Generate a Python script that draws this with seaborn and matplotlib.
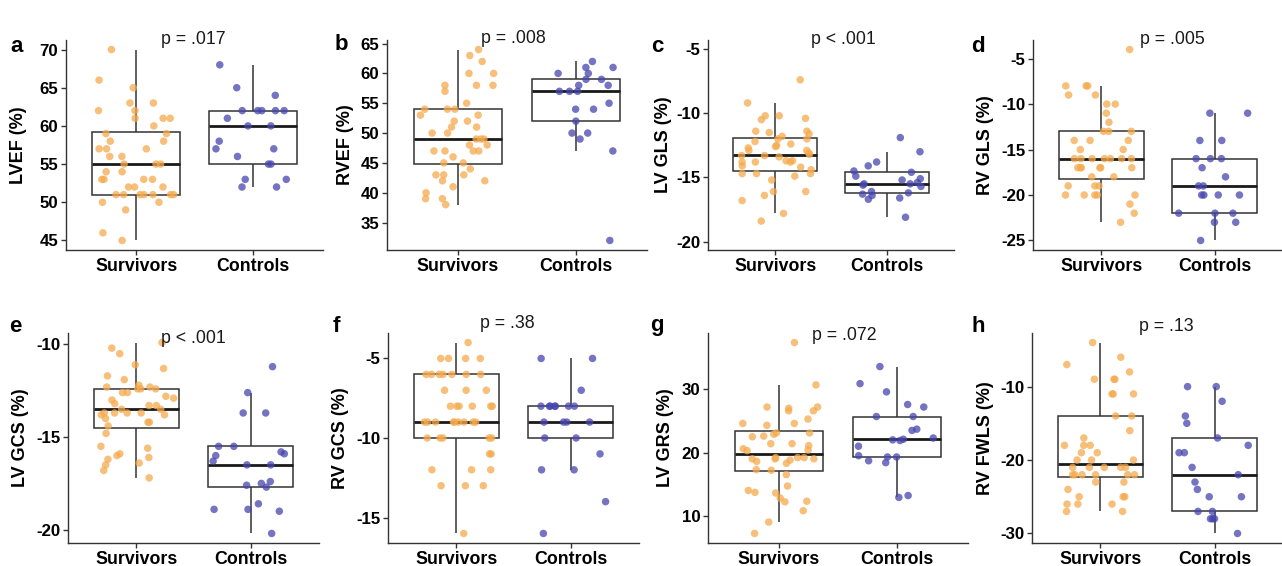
import numpy as np
import pandas as pd
import matplotlib
matplotlib.use('Agg')
import matplotlib.pyplot as plt
from matplotlib.ticker import MultipleLocator, FormatStrFormatter
import seaborn as sns

# ---- data ----
groups = ['Survivors', 'Controls']
panelLetters = ['a', 'b', 'c', 'd', 'e', 'f', 'g', 'h']
yLabels = ['LVEF (%)', 'RVEF (%)', 'LV GLS (%)', 'RV GLS (%)',
           'LV GCS (%)', 'RV GCS (%)', 'LV GRS (%)', 'RV FWLS (%)']
pValues = ['p = .017', 'p = .008', 'p < .001', 'p = .005',
           'p < .001', 'p = .38', 'p = .072', 'p = .13']

lvefSurvivors = [70, 66, 65, 63, 63, 62, 62, 61, 61, 61, 60, 59, 59, 58, 58, 57, 57, 57, 56, 56, 55, 55,
                 55, 54, 54, 53, 53, 53, 53, 52, 52, 52, 51, 51, 51, 51, 51, 51, 51, 50, 50, 49, 46, 45]
lvefControls = [68, 65, 64, 62, 62, 62, 62, 62, 61, 60, 60, 58, 57, 57, 56, 55, 55, 53, 53, 52, 52]

rvefSurvivors = [64, 63, 62, 60, 60, 58, 58, 58, 57, 55, 54, 54, 54, 53, 53, 52, 52, 51, 51, 50, 50, 49,
                 49, 49, 48, 48, 47, 47, 47, 47, 46, 45, 45, 44, 43, 43, 43, 42, 42, 41, 40, 39, 39, 38]
rvefControls = [62, 61, 61, 60, 60, 59, 59, 58, 58, 57, 57, 57, 55, 54, 54, 52, 50, 50, 49, 47, 32]

lvGlsSurvivors = [-7.4, -9.2, -10.2, -10.2, -10.4, -10.5, -11.4, -11.4, -11.5, -11.6, -11.8, -12.0, -12.0,
                  -12.2, -12.4, -12.5, -12.6, -12.7, -12.9, -12.9, -13.1, -13.2, -13.3, -13.3, -13.4, -13.7,
                  -13.7, -13.8, -13.8, -13.8, -14.1, -14.2, -14.4, -14.7, -14.7, -14.7, -14.9, -15.2, -16.1,
                  -16.1, -16.4, -16.8, -17.8, -18.4]
lvGlsControls = [-11.9, -13.0, -13.8, -14.1, -14.5, -14.6, -14.9, -15.1, -15.2, -15.4, -15.5, -15.5, -15.6,
                 -15.7, -16.1, -16.2, -16.3, -16.4, -16.6, -16.7, -18.1]

rvGlsSurvivors = [-4, -8, -8, -8, -9, -9, -10, -10, -11, -12, -13, -13, -13, -14, -14, -14, -15, -15,
                  -16, -16, -16, -16, -16, -16, -16, -17, -17, -17, -17, -17, -17, -18, -18, -19, -19, -19,
                  -20, -20, -20, -20, -20, -21, -22, -23]
rvGlsControls = [-11, -11, -14, -14, -16, -16, -16, -17, -18, -19, -19, -20, -20, -20, -20, -22, -22, -22,
                 -23, -23, -25]

lvGcsSurvivors = [-9.9, -10.2, -10.5, -11.1, -11.3, -11.7, -11.9, -12.2, -12.3, -12.3, -12.4, -12.4, -12.4,
                  -12.6, -12.6, -12.8, -12.9, -13.0, -13.2, -13.3, -13.3, -13.5, -13.5, -13.7, -13.7, -13.7,
                  -13.7, -13.8, -13.8, -14.0, -14.2, -14.2, -14.4, -14.8, -15.5, -15.6, -15.9, -16.0, -16.1,
                  -16.2, -16.4, -16.5, -16.8, -17.2]
lvGcsControls = [-11.2, -12.6, -13.7, -13.7, -15.5, -15.5, -15.8, -15.9, -16.0, -16.3, -16.5, -16.5, -17.4,
                 -17.5, -17.6, -17.7, -18.6, -18.9, -18.9, -19.0, -20.2]

rvGcsSurvivors = [-4, -5, -5, -5, -5, -6, -6, -6, -6, -6, -6, -6, -7, -7, -7, -8, -8, -8, -8, -8, -8,
                  -9, -9, -9, -9, -9, -9, -9, -9, -9, -10, -10, -10, -10, -10, -11, -11, -12, -12, -12,
                  -13, -13, -13, -16]
rvGcsControls = [-5, -5, -7, -8, -8, -8, -8, -8, -8, -8, -9, -9, -9, -9, -10, -10, -11, -12, -12, -14, -16]

lvGrsSurvivors = [37.4, 30.7, 27.2, 27.2, 27.0, 26.6, 26.6, 25.3, 24.6, 24.6, 24.3, 23.1, 23.1, 22.9, 22.6,
                  22.5, 21.4, 21.4, 21.1, 20.6, 20.4, 20.3, 19.2, 19.2, 19.2, 19.0, 19.0, 19.0, 18.8, 18.6,
                  18.3, 17.3, 17.2, 16.5, 14.7, 14.0, 13.7, 13.6, 12.8, 12.3, 12.2, 10.8, 9.0, 7.2]
lvGrsControls = [33.6, 30.9, 29.6, 27.6, 27.2, 25.7, 25.7, 23.7, 23.5, 22.3, 22.1, 22.0, 21.9, 21.0, 19.5,
                 19.3, 19.3, 18.7, 18.4, 13.2, 12.9]

rvFwlsSurvivors = [-4, -6, -7, -8, -9, -9, -9, -11, -11, -11, -14, -14, -16, -17, -18, -18, -18, -19, -19,
                   -20, -20, -20, -21, -21, -21, -21, -21, -22, -22, -22, -22, -22, -22, -23, -23, -24,
                   -25, -25, -25, -26, -26, -26, -27, -27]
rvFwlsControls = [-10, -10, -12, -14, -15, -17, -18, -19, -19, -21, -22, -23, -24, -25, -25, -27, -27, -28,
                  -28, -28, -30]

panelData = [(lvefSurvivors, lvefControls), (rvefSurvivors, rvefControls),
             (lvGlsSurvivors, lvGlsControls), (rvGlsSurvivors, rvGlsControls),
             (lvGcsSurvivors, lvGcsControls), (rvGcsSurvivors, rvGcsControls),
             (lvGrsSurvivors, lvGrsControls), (rvFwlsSurvivors, rvFwlsControls)]

# ---- layout (pixels of the 1282x566 figure) ----
figW, figH = 1282, 566
axesLeftPx = [66, 387, 708, 1033, 68, 388, 708, 1032]
axesWidthPx = [257, 260, 246, 250, 251, 251, 260, 251]
axesTopPx = [40, 40, 40, 40, 333, 333, 333, 333]
axesHeightPx = 210
tickStep = [5, 5, 5, 5, 5, 5, 10, 10]
# panel c uses a fixed y range in the reference, the others follow the data
yLimitOverride = {2: (-20.65, -4.3)}
pTextX = [0.494, 0.485, 0.549, 0.556, 0.498, 0.474, 0.523, 0.534]
pTextY = [1.0, 1.005, 1.003, 1.003, 0.976, 1.043, 0.99, 1.03]
yLabelOffsetPx = [-39, -33, -36, -39, -39, -39, -34, -38]
letterPos = [(17, 46), (341, 44), (657, 46), (978, 46), (15, 326), (336, 326), (657, 326), (978, 326)]

pointColors = {'Survivors': '#F5AA4C', 'Controls': '#4646AE'}
lineColor = '#333333'

sns.set_theme(style='white')
plt.rcParams['font.family'] = ['Liberation Sans', 'DejaVu Sans']
plt.rcParams['axes.unicode_minus'] = False

fig = plt.figure(figsize=(figW / 100, figH / 100), dpi=100)
np.random.seed(11)

for i, (surv, ctrl) in enumerate(panelData):
    df = pd.DataFrame({'group': ['Survivors'] * len(surv) + ['Controls'] * len(ctrl),
                       'value': surv + ctrl})
    rect = [axesLeftPx[i] / figW, 1 - (axesTopPx[i] + axesHeightPx) / figH,
            axesWidthPx[i] / figW, axesHeightPx / figH]
    ax = fig.add_axes(rect)

    sns.boxplot(data=df, x='group', y='value', order=groups, color='white', linecolor=lineColor,
                linewidth=1.1, width=0.75, showfliers=False, showcaps=False,
                medianprops=dict(color='#1a1a1a', linewidth=2.0), ax=ax)
    sns.stripplot(data=df, x='group', y='value', order=groups, hue='group', hue_order=groups,
                  palette=pointColors, jitter=0.33, size=5.4, alpha=0.75, linewidth=0,
                  legend=False, ax=ax, zorder=3)

    # ggplot-like 5% expansion of the data range
    if i in yLimitOverride:
        ax.set_ylim(*yLimitOverride[i])
    else:
        lo, hi = df['value'].min(), df['value'].max()
        pad = 0.05 * (hi - lo)
        ax.set_ylim(lo - pad, hi + pad)
    ax.set_xlim(-0.6, 1.6)
    ax.yaxis.set_major_locator(MultipleLocator(tickStep[i]))
    ax.yaxis.set_major_formatter(FormatStrFormatter('%g'))

    for side in ['top', 'right']:
        ax.spines[side].set_visible(False)
    for side in ['left', 'bottom']:
        ax.spines[side].set_color(lineColor)
        ax.spines[side].set_linewidth(1.0)
    ax.tick_params(axis='both', bottom=True, left=True, length=3.5, width=1.0, color=lineColor,
                   direction='out', pad=2, labelcolor='black')
    for lab in ax.get_xticklabels():
        lab.set_fontweight('bold')
        lab.set_fontsize(12.8)
    for lab in ax.get_yticklabels():
        lab.set_fontweight('bold')
        lab.set_fontsize(12.2)

    ax.set_xlabel('')
    ax.set_ylabel(yLabels[i], fontsize=13, fontweight='bold', color='black')
    ax.yaxis.set_label_coords(yLabelOffsetPx[i] / axesWidthPx[i], 0.5)

    ax.text(pTextX[i], pTextY[i], pValues[i], transform=ax.transAxes, ha='center', va='center',
            fontsize=12.8, color='#1a1a1a')

    lx, ly = letterPos[i]
    fig.text(lx / figW, 1 - ly / figH, panelLetters[i], ha='center', va='center',
             fontsize=16, fontweight='bold', color='black')

fig.savefig('out.png', dpi=100)
plt.close(fig)
